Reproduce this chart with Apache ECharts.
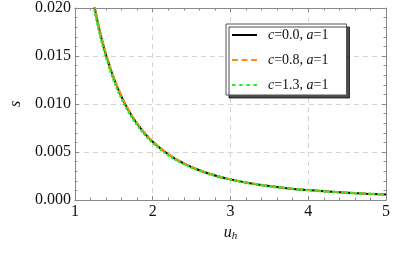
<!DOCTYPE html>
<html><head><meta charset="utf-8">
<script src="https://cdn.jsdelivr.net/npm/echarts@6/dist/echarts.min.js"></script>
<style>html,body{margin:0;padding:0;background:#fff}#c{width:407px;height:254px}</style>
</head><body><div id="c"></div>
<script>
const uValues = [1.25, 1.3, 1.35, 1.4, 1.5, 1.6, 1.7, 1.8, 1.9, 2.0, 2.2, 2.4, 2.6, 2.8, 3.0, 3.25, 3.5, 3.75, 4.0, 4.25, 4.5, 4.75, 5.0];
const sC00 = [0.02022, 0.01829, 0.01660, 0.01513, 0.01268, 0.01075, 0.00920, 0.00795, 0.00692, 0.00607, 0.00476, 0.00381, 0.00310, 0.00256, 0.00215, 0.00175, 0.00145, 0.00121, 0.00103, 0.00088, 0.00076, 0.00066, 0.00058];
const sC08 = [0.02045, 0.01850, 0.01679, 0.01530, 0.01282, 0.01087, 0.00930, 0.00804, 0.00700, 0.00614, 0.00481, 0.00385, 0.00313, 0.00259, 0.00217, 0.00177, 0.00146, 0.00122, 0.00104, 0.00089, 0.00077, 0.00067, 0.00059];
const sC13 = [0.01985, 0.01796, 0.01630, 0.01486, 0.01245, 0.01056, 0.00904, 0.00781, 0.00680, 0.00597, 0.00468, 0.00375, 0.00305, 0.00252, 0.00212, 0.00173, 0.00143, 0.00119, 0.00102, 0.00087, 0.00075, 0.00065, 0.00057];
const cLabels = ['0.0', '0.8', '1.3'];
const aLabel = '1';
const xTickLabels = ['1', '2', '3', '4', '5'];
const yTickLabels = ['0.000', '0.005', '0.010', '0.015', '0.020'];

const seriesNames = cLabels.map(c => 'c=' + c + ', a=' + aLabel);
const pair = (ys) => uValues.map((u, i) => [u, ys[i]]);
const serif = "'Liberation Serif', 'Times New Roman', serif";
const frame = '#8a8a8a';
const colors = ['#000000', '#ff8a1c', '#22ee22'];
const legendIcons = [
  'path://M0,0H25V2H0Z',
  'path://M0,0H6V2H0Z M9.5,0H15.5V2H9.5Z M19,0H25V2H19Z',
  'path://M0,0H3.5V2H0Z M7.2,0H10.7V2H7.2Z M14.4,0H17.9V2H14.4Z M21.5,0H25V2H21.5Z'
];

function xAxisDef(pos, labels) {
  return {
    type: 'value', position: pos, min: 1, max: 5, interval: 1,
    axisLine: { show: true, onZero: false, lineStyle: { color: frame, width: 1 } },
    axisTick: { show: true, inside: true, length: 4, lineStyle: { color: frame } },
    minorTick: { show: true, splitNumber: 5, length: 2.5, lineStyle: { color: frame } },
    splitLine: { show: pos === 'bottom', lineStyle: { color: '#d4d4d4', type: [5, 4], width: 1 } },
    axisLabel: { show: labels, color: '#111', fontFamily: serif, fontSize: 16, margin: 4,
      formatter: v => xTickLabels[Math.round(v) - 1] },
    name: labels ? '{i|u}{sub|h}' : '', nameLocation: 'middle', nameGap: 22,
    nameTextStyle: { rich: { i: { fontFamily: serif, fontStyle: 'italic', fontSize: 16, color: '#111' },
      sub: { fontFamily: serif, fontStyle: 'italic', fontSize: 11, color: '#111', verticalAlign: 'bottom', padding: [7, 0, 0, 0] } } }
  };
}
function yAxisDef(pos, labels) {
  return {
    type: 'value', position: pos, min: 0, max: 0.02, interval: 0.005,
    axisLine: { show: true, onZero: false, lineStyle: { color: frame, width: 1 } },
    axisTick: { show: true, inside: true, length: 4, lineStyle: { color: frame } },
    minorTick: { show: true, splitNumber: 5, length: 2.5, lineStyle: { color: frame } },
    splitLine: { show: pos === 'left', lineStyle: { color: '#d4d4d4', type: [5, 4], width: 1 } },
    axisLabel: { show: labels, color: '#111', fontFamily: serif, fontSize: 16, margin: 4,
      formatter: v => yTickLabels[Math.round(v / 0.005)] },
    name: labels ? 's' : '', nameLocation: 'middle', nameGap: 47, nameRotate: 90,
    nameTextStyle: { fontFamily: serif, fontStyle: 'italic', fontSize: 16, color: '#111' }
  };
}

const chart = echarts.init(document.getElementById('c'), null, { renderer: 'canvas' });
chart.setOption({
  animation: false,
  backgroundColor: '#fff',
  grid: { left: 74, right: 21, top: 7, bottom: 54, containLabel: false },
  xAxis: [xAxisDef('bottom', true), xAxisDef('top', false)],
  yAxis: [yAxisDef('left', true), yAxisDef('right', false)],
  legend: {
    show: true,
    orient: 'vertical', left: 226, top: 24,
    backgroundColor: '#fff', borderColor: '#555', borderWidth: 1,
    shadowColor: 'rgba(0,0,0,0.7)', shadowOffsetX: 3, shadowOffsetY: 3, shadowBlur: 0,
    padding: [4, 18, 3, 6], itemWidth: 25, itemHeight: 2.5, itemGap: 11,
    data: seriesNames.map((n, i) => ({ name: n, icon: legendIcons[i], itemStyle: { color: colors[i] } })),
    formatter: name => {
      const idx = seriesNames.indexOf(name);
      return '{c|c}{n|=' + cLabels[idx] + ', }{i|a}{n|=' + aLabel + '}';
    },
    textStyle: { rich: {
      c: { fontFamily: serif, fontStyle: 'italic', fontSize: 14, color: '#111', padding: [0, 0, 0, 6] },
      i: { fontFamily: serif, fontStyle: 'italic', fontSize: 14, color: '#111' },
      n: { fontFamily: serif, fontSize: 14, color: '#111' } } }
  },
  series: [
    { name: seriesNames[0], type: 'line', data: pair(sC00), smooth: true, showSymbol: false, symbol: 'none',
      lineStyle: { color: colors[0], width: 2 }, itemStyle: { color: colors[0] }, z: 2 },
    { name: seriesNames[1], type: 'line', data: pair(sC08), smooth: true, showSymbol: false, symbol: 'none',
      lineStyle: { color: colors[1], width: 2, type: [6, 3] }, itemStyle: { color: colors[1] }, z: 3 },
    { name: seriesNames[2], type: 'line', data: pair(sC13), smooth: true, showSymbol: false, symbol: 'none',
      lineStyle: { color: colors[2], width: 2.5, type: [2.5, 2] }, itemStyle: { color: colors[2] }, z: 4 }
  ]
});
</script></body></html>
